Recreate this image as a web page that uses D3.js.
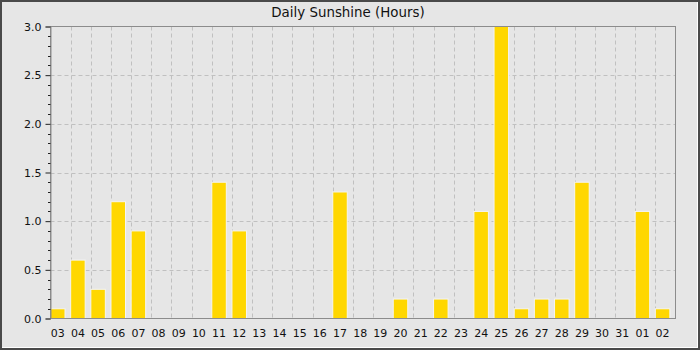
<!DOCTYPE html>
<html><head><meta charset="utf-8">
<script src="https://cdn.jsdelivr.net/npm/d3@7"></script>
<style>body{margin:0;background:#fff}svg{display:block}text{font-family:"DejaVu Sans",sans-serif;fill:#111}</style>
</head><body><svg id="c" width="700" height="350"></svg>
<script>
const days = ["03","04","05","06","07","08","09","10","11","12","13","14","15","16","17","18","19","20","21","22","23","24","25","26","27","28","29","30","31","01","02"];
const sunshine = [0.1,0.6,0.3,1.2,0.9,0,0,0,1.4,0.9,0,0,0,0,1.3,0,0,0.2,0,0.2,0,1.1,3.0,0.1,0.2,0.2,1.4,0,0,1.1,0.1];
const yMajor = [0,0.5,1.0,1.5,2.0,2.5,3.0];
const title = "Daily Sunshine (Hours)";

const W=700,H=350, L=50.5, R=675.5, T=26.5, B=318.5;
const svg=d3.select("#c");
svg.append("rect").attr("x",0).attr("y",0).attr("width",W).attr("height",H).attr("fill","#4a4a4a");
svg.append("rect").attr("x",2).attr("y",2).attr("width",W-4).attr("height",H-4).attr("fill","#ffffff");
svg.append("rect").attr("x",2).attr("y",2).attr("width",W-5).attr("height",H-5).attr("fill","#e6e6e6");

const x=d3.scaleBand().domain(days).range([L,R]).padding(0);
const y=d3.scaleLinear().domain([0,3]).range([B,T]);

// grid
const g=svg.append("g");
g.selectAll("line.v").data(days.slice(1)).join("line")
 .attr("x1",d=>Math.round(x(d))+0.5).attr("x2",d=>Math.round(x(d))+0.5).attr("y1",T).attr("y2",B)
 .attr("stroke","#c0c0c0").attr("stroke-dasharray","4,3");
g.selectAll("line.h").data(yMajor.slice(1,-1)).join("line")
 .attr("x1",L).attr("x2",R).attr("y1",d=>Math.round(y(d))+0.5).attr("y2",d=>Math.round(y(d))+0.5)
 .attr("stroke","#c0c0c0").attr("stroke-dasharray","4,3");

// bars
svg.append("g").selectAll("rect").data(days).join("rect")
 .attr("x",d=>x(d)).attr("width",x.step()*0.72)
 .attr("y",(d,i)=>y(sunshine[i])).attr("height",(d,i)=>B-y(sunshine[i]))
 .attr("fill","#ffd700").attr("stroke","#f4f4f4").attr("stroke-width",1)
 .attr("display",(d,i)=>sunshine[i]>0?null:"none");

// frame
svg.append("rect").attr("x",L).attr("y",T).attr("width",R-L).attr("height",B-T)
 .attr("fill","none").attr("stroke","#8c8c8c");

// y axis
const ya=svg.append("g").attr("transform",`translate(${L},0)`)
 .call(d3.axisLeft(y).tickValues(yMajor).tickFormat(d3.format(".1f")).tickSize(5).tickPadding(4));
ya.select(".domain").attr("stroke","#8c8c8c");
ya.selectAll(".tick line").attr("stroke","#222");
ya.selectAll("text").attr("font-size",11).attr("font-family","DejaVu Sans").attr("fill","#111");
const minor=d3.range(0,31).map(i=>i/10).filter(v=>Math.abs(v*2-Math.round(v*2))>1e-6);
svg.append("g").selectAll("line").data(minor).join("line")
 .attr("x1",L-2.5).attr("x2",L).attr("y1",d=>Math.round(y(d))+0.5).attr("y2",d=>Math.round(y(d))+0.5)
 .attr("stroke","#222");

// x labels
svg.append("g").selectAll("text").data(days).join("text")
 .attr("x",d=>x(d)+x.step()*0.36).attr("y",337).attr("text-anchor","middle")
 .attr("font-size",11).text(d=>d);

svg.append("text").attr("x",348).attr("y",17).attr("text-anchor","middle").attr("font-size",13.4).text(title);
</script></body></html>
